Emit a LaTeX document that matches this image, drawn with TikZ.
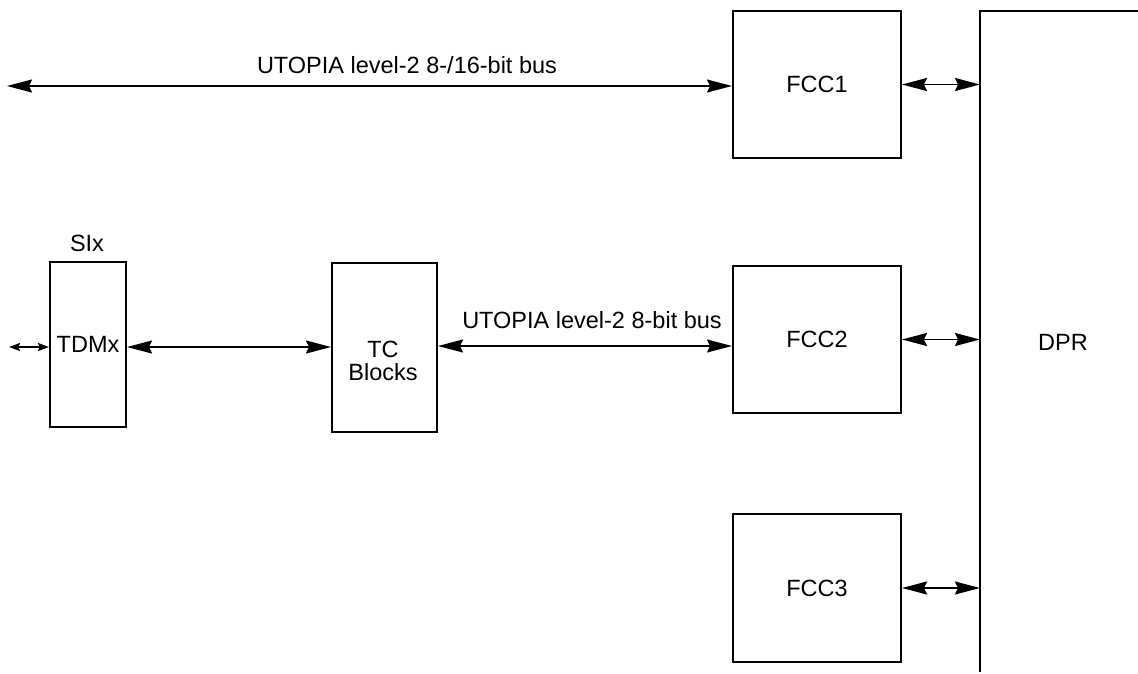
\documentclass[tikz,border=0pt]{standalone}
\usepackage{fontspec}
\setmainfont{Liberation Sans}
\usetikzlibrary{arrows.meta}
\begin{document}
\begin{tikzpicture}[x=1pt,y=-1pt,
  blk/.style={draw,line width=2pt,inner sep=0pt,align=center,text height=16.8pt,text depth=0pt,font=\fontsize{23.5}{23}\selectfont},
  emptyblk/.style={draw,line width=2pt,inner sep=0pt},
  lbl/.style={inner sep=0pt,font=\fontsize{23.5}{23}\selectfont},
  conn/.style={line width=1.7pt,{Stealth[length=25pt,width=13pt,inset=3pt]}-{Stealth[length=25pt,width=13pt,inset=3pt]}},
  smallconn/.style={line width=1.7pt,{Stealth[length=11pt,width=8pt,inset=1.5pt]}-{Stealth[length=11pt,width=8pt,inset=1.5pt]}}]
\useasboundingbox (0,0) rectangle (1138,673);
\node[blk,minimum width=168pt,minimum height=147pt] (fcc1) at (817,84.5) {FCC1};
\node[blk,minimum width=168pt,minimum height=147pt] (fcc2) at (817,339.5) {FCC2};
\node[blk,minimum width=168pt,minimum height=148pt] (fcc3) at (817,588) {FCC3};
\node[blk,minimum width=76pt,minimum height=165pt] (tdm) at (88,344.5) {TDMx};
\node[emptyblk,minimum width=105pt,minimum height=169pt] (tc) at (384.5,347.5) {};
\node[lbl,align=center] (tctext) at (383,360.5) {TC\\Blocks};
\node[lbl,anchor=base] (six) at (87,251) {SIx};
\node[lbl,anchor=base west] (dpr) at (1038,350) {DPR};
\node[lbl,anchor=base] (bus1) at (407,73) {UTOPIA level-2 8-/16-bit bus};
\node[lbl,anchor=base] (bus2) at (592,328) {UTOPIA level-2 8-bit bus};
\coordinate (dprtop) at (980,11);
\coordinate (dprbot) at (980,672);
\coordinate (dprright) at (1138,11);
\coordinate (busend) at (7,86);
\coordinate (tdmend) at (9,347);
\draw[line width=2pt] (dprbot) -- (dprtop) -- (dprright);
\draw[conn] (busend) -- (fcc1.west |- busend);
\draw[conn] (fcc1.east) -- (fcc1.east -| dprtop);
\draw[conn] (fcc2.east) -- (fcc2.east -| dprtop);
\draw[conn] (fcc3.east) -- (fcc3.east -| dprtop);
\draw[smallconn] (tdmend) -- (tdmend -| tdm.west);
\draw[conn] (tdm.east |- tdmend) -- (tc.west |- tdmend);
\draw[conn] (tc.east |- 0,346) -- (fcc2.west |- 0,346);
\end{tikzpicture}
\end{document}
